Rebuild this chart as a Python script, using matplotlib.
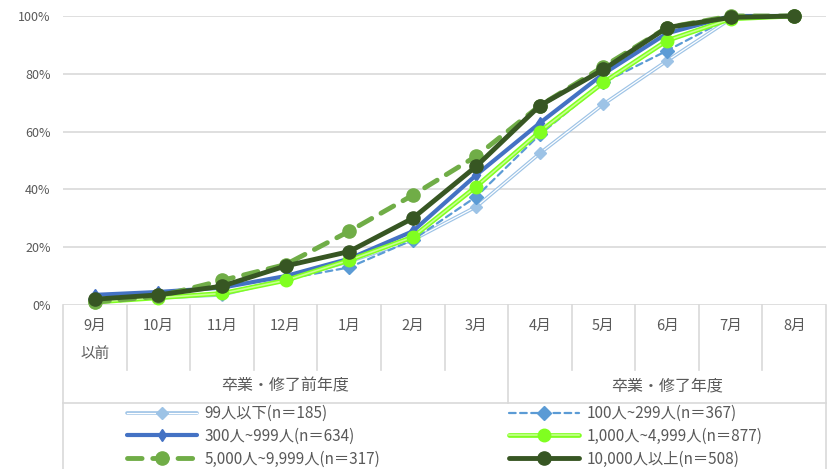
import matplotlib
matplotlib.use('Agg')
from matplotlib import pyplot as plt
from matplotlib.lines import Line2D
from matplotlib.legend_handler import HandlerTuple
import matplotlib.transforms as mtransforms
from matplotlib.ticker import PercentFormatter

plt.rcParams['font.family'] = ['Noto Sans CJK JP', 'DejaVu Sans']

months = ['9月\n以前', '10月', '11月', '12月', '1月', '2月', '3月', '4月', '5月', '6月', '7月', '8月']
groups = ['卒業・修了前年度', '卒業・修了年度']
group_sizes = [7, 5]

labels = ['99人以下(n＝185)', '100人~299人(n＝367)', '300人~999人(n＝634)',
          '1,000人~4,999人(n＝877)', '5,000人~9,999人(n＝317)', '10,000人以上(n＝508)']

s99 = [0.015, 0.025, 0.035, 0.09, 0.15, 0.225, 0.34, 0.525, 0.695, 0.845, 0.99, 1.0]
s100 = [0.02, 0.03, 0.04, 0.09, 0.13, 0.225, 0.375, 0.59, 0.77, 0.88, 0.995, 1.0]
s300 = [0.035, 0.045, 0.06, 0.10, 0.16, 0.255, 0.45, 0.63, 0.80, 0.94, 1.0, 1.0]
s1000 = [0.01, 0.025, 0.04, 0.085, 0.155, 0.235, 0.41, 0.60, 0.77, 0.915, 0.99, 1.0]
s5000 = [0.01, 0.03, 0.085, 0.14, 0.255, 0.38, 0.515, 0.69, 0.825, 0.96, 1.0, 1.0]
s10000 = [0.02, 0.035, 0.065, 0.135, 0.185, 0.30, 0.48, 0.69, 0.815, 0.96, 0.995, 1.0]

W, H = 832, 469
fig = plt.figure(figsize=(W / 100, H / 100), dpi=100)
ax = fig.add_axes([63 / W, 1 - 305 / H, (826 - 63) / W, (305 - 16) / H])

x = list(range(len(months)))
grey = '#595959'
linec = '#d9d9d9'

handles = []

def series(vals, color, lw, ls='-', marker='o', ms=8, inner=None, z=2):
    parts = []
    l1, = ax.plot(x, vals, color=color, lw=lw, ls=ls, solid_capstyle='round',
                  dash_capstyle='round', zorder=z, clip_on=False)
    parts.append(l1)
    if inner:
        l2, = ax.plot(x, vals, color=inner, lw=lw * 0.35, zorder=z + 0.1, clip_on=False)
        parts.append(l2)
    m, = ax.plot(x, vals, ls='none', marker=marker, ms=ms, color=color,
                 markeredgecolor=color, zorder=z + 0.2, clip_on=False)
    parts.append(m)
    handles.append(tuple(parts))

series(s99, '#9dc3e6', 2.6, marker='D', ms=6, inner='white', z=2)
series(s100, '#5b9bd5', 1.6, ls=(0, (3, 2)), marker='D', ms=7, z=3)
series(s300, '#4472c4', 3.0, marker='d', ms=6, z=4)
series(s1000, '#80ff20', 3.4, marker='o', ms=9, inner='#c8ff90', z=5)
series(s5000, '#70ad47', 3.5, ls=(0, (3, 2.2)), marker='o', ms=9.5, z=6)
series(s10000, '#375623', 3.5, marker='o', ms=9.5, z=7)

ax.set_xlim(-0.5, len(months) - 0.5)
ax.set_ylim(0, 1)
ax.set_yticks([0, 0.2, 0.4, 0.6, 0.8, 1.0])
ax.yaxis.set_major_formatter(PercentFormatter(1.0, decimals=0))
ax.set_xticks([])
ax.grid(axis='y', color=linec, lw=1.2)
ax.set_axisbelow(True)
for s in ax.spines.values():
    s.set_visible(False)
ax.tick_params(axis='y', length=0, pad=9, labelsize=9, labelcolor=grey)

# multi-level category axis
tr = mtransforms.blended_transform_factory(ax.transData, fig.transFigure)
def fy(py):
    return 1 - py / H

for i, m in enumerate(months):
    rows = m.split('\n')
    fig.text(i, fy(326), rows[0], transform=tr, ha='center', va='center', fontsize=10.5, color=grey)
    if len(rows) > 1:
        fig.text(i, fy(354), rows[1], transform=tr, ha='center', va='center', fontsize=10.5, color=grey)

bounds = [0]
for g in group_sizes:
    bounds.append(bounds[-1] + g)
for i in range(len(months) + 1):
    xb = i - 0.5
    bottom = fy(469) if i in (0, len(months)) else (fy(403) if i in bounds else fy(370))
    fig.add_artist(Line2D([xb, xb], [fy(305), bottom], transform=tr, color=linec, lw=1.2))
fig.add_artist(Line2D([-0.5, len(months) - 0.5], [fy(403), fy(403)], transform=tr, color=linec, lw=1.2))
for gi, g in enumerate(groups):
    c = (bounds[gi] + bounds[gi + 1] - 1) / 2
    fig.text(c, fy(386), g, transform=tr, ha='center', va='center', fontsize=11.5, color=grey)

order_cols = [[0, 2, 4], [1, 3, 5]]
lx = [127, 509]
for ci, idx in enumerate(order_cols):
    fig.legend([handles[k] for k in idx], [labels[k] for k in idx],
               handler_map={tuple: HandlerTuple(ndivide=1)},
               loc='upper left', bbox_to_anchor=(lx[ci] / W, fy(405)),
               frameon=False, fontsize=11, labelcolor=grey, handlelength=4.6,
               handletextpad=0.45, labelspacing=0.38, borderpad=0, borderaxespad=0)

fig.savefig('out.png', dpi=100)
